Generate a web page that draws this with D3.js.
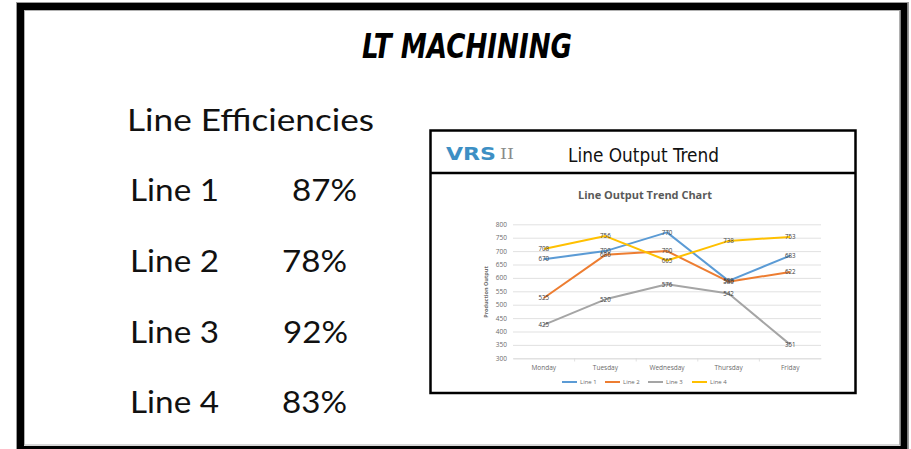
<!DOCTYPE html>
<html><head><meta charset="utf-8">
<script src="https://cdn.jsdelivr.net/npm/d3@7"></script>
<style>html,body{margin:0;padding:0;background:#fff;overflow:hidden}</style>
</head><body>
<svg id="c" width="911" height="449"></svg>
<script>
const days = ["Monday","Tuesday","Wednesday","Thursday","Friday"];
const seriesNames = ["Line 1","Line 2","Line 3","Line 4"];
const line1 = [670, 700, 770, 589, 683];
const line2 = [525, 686, 700, 586, 622];
const line3 = [425, 520, 576, 542, 351];
const line4 = [708, 756, 665, 738, 753];
const yTicks = [300,350,400,450,500,550,600,650,700,750,800];
const efficiencyLines = ["Line 1","Line 2","Line 3","Line 4"];
const efficiencyValues = ["87%","78%","92%","83%"];
const colors = ["#5B9BD5","#ED7D31","#A5A5A5","#FFC000"];

const svg = d3.select("#c");

// outer frame
svg.append("rect").attr("x",16.5).attr("y",2.5).attr("width",892).attr("height",450)
  .attr("fill","none").attr("stroke","#9a9a9a").attr("stroke-width",1);
svg.append("rect").attr("x",20.5).attr("y",6.5).attr("width",883.5).attr("height",443)
  .attr("fill","#fff").attr("stroke","#000").attr("stroke-width",7);
svg.append("rect").attr("x",24.5).attr("y",10.5).attr("width",875).attr("height",434.5)
  .attr("fill","none").attr("stroke","#b0b0b0").attr("stroke-width",1);

// main title
svg.append("text").attr("x",362).attr("y",58).text("LT MACHINING")
  .attr("font-family","DejaVu Sans").attr("font-weight","bold").attr("font-style","italic")
  .attr("font-stretch","condensed").attr("font-size",34)
  .attr("textLength",210).attr("lengthAdjust","spacingAndGlyphs").attr("fill","#000");

// left efficiencies
const leftFont = "Lato, 'Open Sans', sans-serif";
svg.append("text").attr("x",127).attr("y",131).text("Line Efficiencies")
  .attr("font-family",leftFont).attr("font-size",30).attr("fill","#111")
  .attr("textLength",247).attr("lengthAdjust","spacingAndGlyphs");
const rowY = [201,272,343,413];
const valX = [292,282,283,282];
efficiencyLines.forEach((t,i)=>{
  svg.append("text").attr("x",130).attr("y",rowY[i]).text(t)
    .attr("font-family",leftFont).attr("font-size",30).attr("fill","#111")
    .attr("textLength",89).attr("lengthAdjust","spacingAndGlyphs");
  svg.append("text").attr("x",valX[i]).attr("y",rowY[i]).text(efficiencyValues[i])
    .attr("font-family",leftFont).attr("font-size",30).attr("fill","#111")
    .attr("textLength",65).attr("lengthAdjust","spacingAndGlyphs");
});

// chart box
svg.append("rect").attr("x",430.5).attr("y",130.5).attr("width",425).attr("height",262.5)
  .attr("fill","#fff").attr("stroke","#000").attr("stroke-width",2.5);
svg.append("line").attr("x1",430).attr("x2",856).attr("y1",173).attr("y2",173)
  .attr("stroke","#000").attr("stroke-width",2.5);

// logo
svg.append("text").attr("x",446).attr("y",160).text("VRS")
  .attr("font-family","DejaVu Sans").attr("font-weight","bold")
  .attr("font-size",17).attr("fill","#3d8fc4")
  .attr("textLength",50).attr("lengthAdjust","spacingAndGlyphs");
svg.append("text").attr("x",500).attr("y",159).text("II")
  .attr("font-family","DejaVu Serif").attr("font-size",14).attr("fill","#8a8a8a")
  .attr("textLength",14).attr("lengthAdjust","spacingAndGlyphs");
svg.append("text").attr("x",568).attr("y",162).text("Line Output Trend")
  .attr("font-family","DejaVu Sans").attr("font-stretch","condensed").attr("font-size",20)
  .attr("fill","#111").attr("textLength",151).attr("lengthAdjust","spacingAndGlyphs");

// inner chart
const x = d3.scaleBand().domain(days).range([513,821]);
const y = d3.scaleLinear().domain([300,800]).range([358.3,224.3]);
const g = svg.append("g");

g.append("text").attr("x",645).attr("y",199).attr("text-anchor","middle")
  .text("Line Output Trend Chart").attr("font-family","'Open Sans', sans-serif")
  .attr("font-weight","bold").attr("font-size",10).attr("fill","#595959")
  .attr("textLength",134).attr("lengthAdjust","spacingAndGlyphs");

const gy = g.append("g").attr("transform","translate(513,0)")
  .call(d3.axisLeft(y).tickValues(yTicks).tickSize(-308).tickFormat(d3.format("d")));
gy.select(".domain").remove();
gy.selectAll(".tick line").attr("stroke","#d9d9d9").attr("stroke-width",0.8);
gy.selectAll(".tick text").attr("fill","#6b6b6b").attr("font-size",6.5)
  .attr("font-family","'Open Sans', sans-serif").attr("x",-6);

const gx = g.append("g").attr("transform","translate(0,358.3)")
  .call(d3.axisBottom(x).tickSize(0).tickPadding(7));
gx.select(".domain").attr("stroke","#d9d9d9").attr("stroke-width",0.8);
gx.selectAll(".tick text").attr("fill","#6b6b6b").attr("font-size",6.5)
  .attr("font-family","'Open Sans', sans-serif");
days.slice(1).forEach(d=>{
  g.append("line").attr("x1",x(d)).attr("x2",x(d)).attr("y1",358.3).attr("y2",361.5)
   .attr("stroke","#d9d9d9").attr("stroke-width",0.8);
});

g.append("text").attr("transform","translate(488,292) rotate(-90)").attr("text-anchor","middle")
  .text("Production Output").attr("font-family","'Open Sans', sans-serif")
  .attr("font-size",5.5).attr("font-weight","bold").attr("fill","#6b6b6b");

const all = [line1,line2,line3,line4];
const cx = d => x(d) + x.bandwidth()/2;
const lineGen = d3.line().x((v,i)=>cx(days[i])).y(v=>y(v));
all.forEach((s,k)=>{
  g.append("path").datum(s).attr("d",lineGen).attr("fill","none")
    .attr("stroke",colors[k]).attr("stroke-width",2).attr("stroke-linejoin","round");
});
all.forEach((s,k)=>{
  s.forEach((v,i)=>{
    g.append("text").attr("x",cx(days[i])).attr("y",y(v)+2.2).attr("text-anchor","middle")
      .text(v).attr("font-family","'Open Sans', sans-serif").attr("font-size",6.2)
      .attr("fill","#404040");
  });
});

// legend
const legX = [562,605,648,692];
seriesNames.forEach((n,k)=>{
  g.append("line").attr("x1",legX[k]).attr("x2",legX[k]+15).attr("y1",382).attr("y2",382)
    .attr("stroke",colors[k]).attr("stroke-width",2);
  g.append("text").attr("x",legX[k]+18).attr("y",384).text(n)
    .attr("font-family","'Open Sans', sans-serif").attr("font-size",6).attr("fill","#6b6b6b");
});
</script>
</body></html>
